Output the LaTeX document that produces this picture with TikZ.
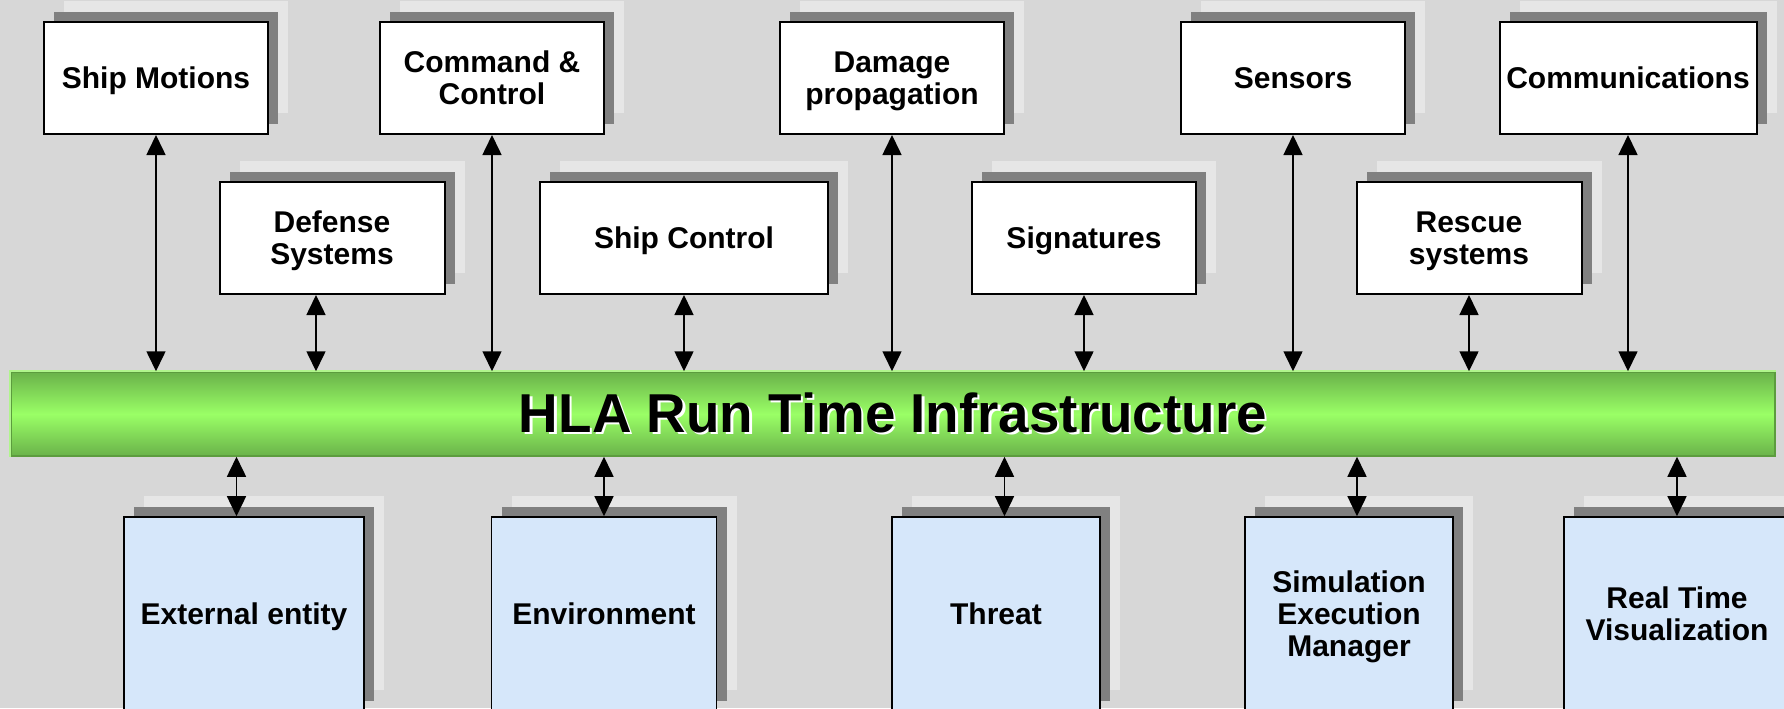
\documentclass[tikz,border=0pt]{standalone}
\usepackage{fontspec}
\setmainfont{Liberation Sans}
\usetikzlibrary{arrows.meta,shadows}

\definecolor{bggrey}{RGB}{215,215,215}
\definecolor{shadowdark}{RGB}{128,128,128}
\definecolor{shadowlight}{RGB}{230,230,230}
\definecolor{rtigreen}{RGB}{154,255,102}
\definecolor{rtidark}{RGB}{106,178,74}
\definecolor{rtiedge}{RGB}{92,156,62}
\definecolor{rtihigh}{RGB}{176,245,140}
\definecolor{svcblue}{RGB}{214,231,250}

\newcommand{\rtitext}[1]{\rlap{\hspace{1.2pt}\raisebox{-1.2pt}{\color{white}#1}}#1}

\tikzset{every picture/.style={line width=0.75pt}}
\tikzset{
  boxshadows/.style={
    general shadow={fill=shadowlight, shadow xshift=10pt, shadow yshift=10.75pt},
    general shadow={fill=shadowdark, shadow xshift=5pt, shadow yshift=5.25pt}},
  fedbox/.style={boxshadows, draw=black, line width=1pt, fill=white, align=center,
    minimum height=56pt, inner sep=2pt, text depth=0pt,
    font=\bfseries\fontsize{15}{16}\selectfont},
  svcbox/.style={boxshadows, draw=black, line width=0.8pt, fill=svcblue, align=center,
    minimum height=97pt, inner sep=2pt, text depth=0pt,
    font=\bfseries\fontsize{15}{16}\selectfont},
  rtibar/.style={minimum width=882pt, minimum height=42pt, inner sep=0pt,
    top color=rtidark, bottom color=rtidark, middle color=rtigreen,
    draw=rtiedge, line width=0.75pt, font=\bfseries\fontsize{27.4}{30}\selectfont},
  link/.style={<->, >={Triangle[length=10pt,width=9.5pt]}, line width=0.8pt}
}

\begin{document}
\begin{tikzpicture}[x=0.5pt,y=0.5pt,yscale=-1,xscale=1]

\useasboundingbox (0,0) rectangle (1784,708);
\fill [bggrey] (0,0) rectangle (1784,708);
\clip (0,0) rectangle (1784,708);

% federates, upper row
\node [fedbox, minimum width=112pt] (shipmot) at (156,78) {Ship Motions};
\node [fedbox, minimum width=112pt] (cmdctl) at (492,78) {Command \&\\Control};
\node [fedbox, minimum width=112pt] (damage) at (892,78) {Damage\\propagation};
\node [fedbox, minimum width=112pt] (sensors) at (1293,78) {Sensors};
\node [fedbox, minimum width=128.5pt] (comms) at (1628,78) {Communications};

% federates, second row
\node [fedbox, minimum width=112.5pt] (defense) at (332,238) {Defense\\Systems};
\node [fedbox, minimum width=144pt] (shipctl) at (684,238) {Ship Control};
\node [fedbox, minimum width=112pt] (signat) at (1084,238) {Signatures};
\node [fedbox, minimum width=112.5pt] (rescue) at (1469,238) {Rescue\\systems};

% RTI bus
\node [rtibar] (rti) at (893,414) {\rtitext{HLA Run Time Infrastructure}};
\draw [rtihigh, line width=1pt] (rti.south west) -- (rti.north west) -- (rti.north east);

% federates, lower row
\node [svcbox, minimum width=120pt] (extent) at (244,614) {External entity};
\node [svcbox, minimum width=112.5pt] (environ) at (604,614) {Environment};
\node [svcbox, minimum width=104pt] (threat) at (996,614) {Threat};
\node [svcbox, minimum width=104pt] (sem) at (1349,614) {Simulation\\Execution\\Manager};
\node [svcbox, minimum width=113pt] (rtviz) at (1677,614) {Real Time\\Visualization};

\coordinate (defx) at ([xshift=-8pt]defense.south);
\coordinate (extx) at ([xshift=-3.75pt]extent.north);
\coordinate (thrx) at ([xshift=4.25pt]threat.north);
\coordinate (semx) at ([xshift=4pt]sem.north);

\draw [link] (shipmot.south) -- (shipmot.south |- rti.north);
\draw [link] (cmdctl.south) -- (cmdctl.south |- rti.north);
\draw [link] (damage.south) -- (damage.south |- rti.north);
\draw [link] (sensors.south) -- (sensors.south |- rti.north);
\draw [link] (comms.south) -- (comms.south |- rti.north);
\draw [link] (defx) -- (defx |- rti.north);
\draw [link] (shipctl.south) -- (shipctl.south |- rti.north);
\draw [link] (signat.south) -- (signat.south |- rti.north);
\draw [link] (rescue.south) -- (rescue.south |- rti.north);

\draw [link] (extx |- rti.south) -- (extx);
\draw [link] (environ.north |- rti.south) -- (environ.north);
\draw [link] (thrx |- rti.south) -- (thrx);
\draw [link] (semx |- rti.south) -- (semx);
\draw [link] (rtviz.north |- rti.south) -- (rtviz.north);

\end{tikzpicture}
\end{document}
